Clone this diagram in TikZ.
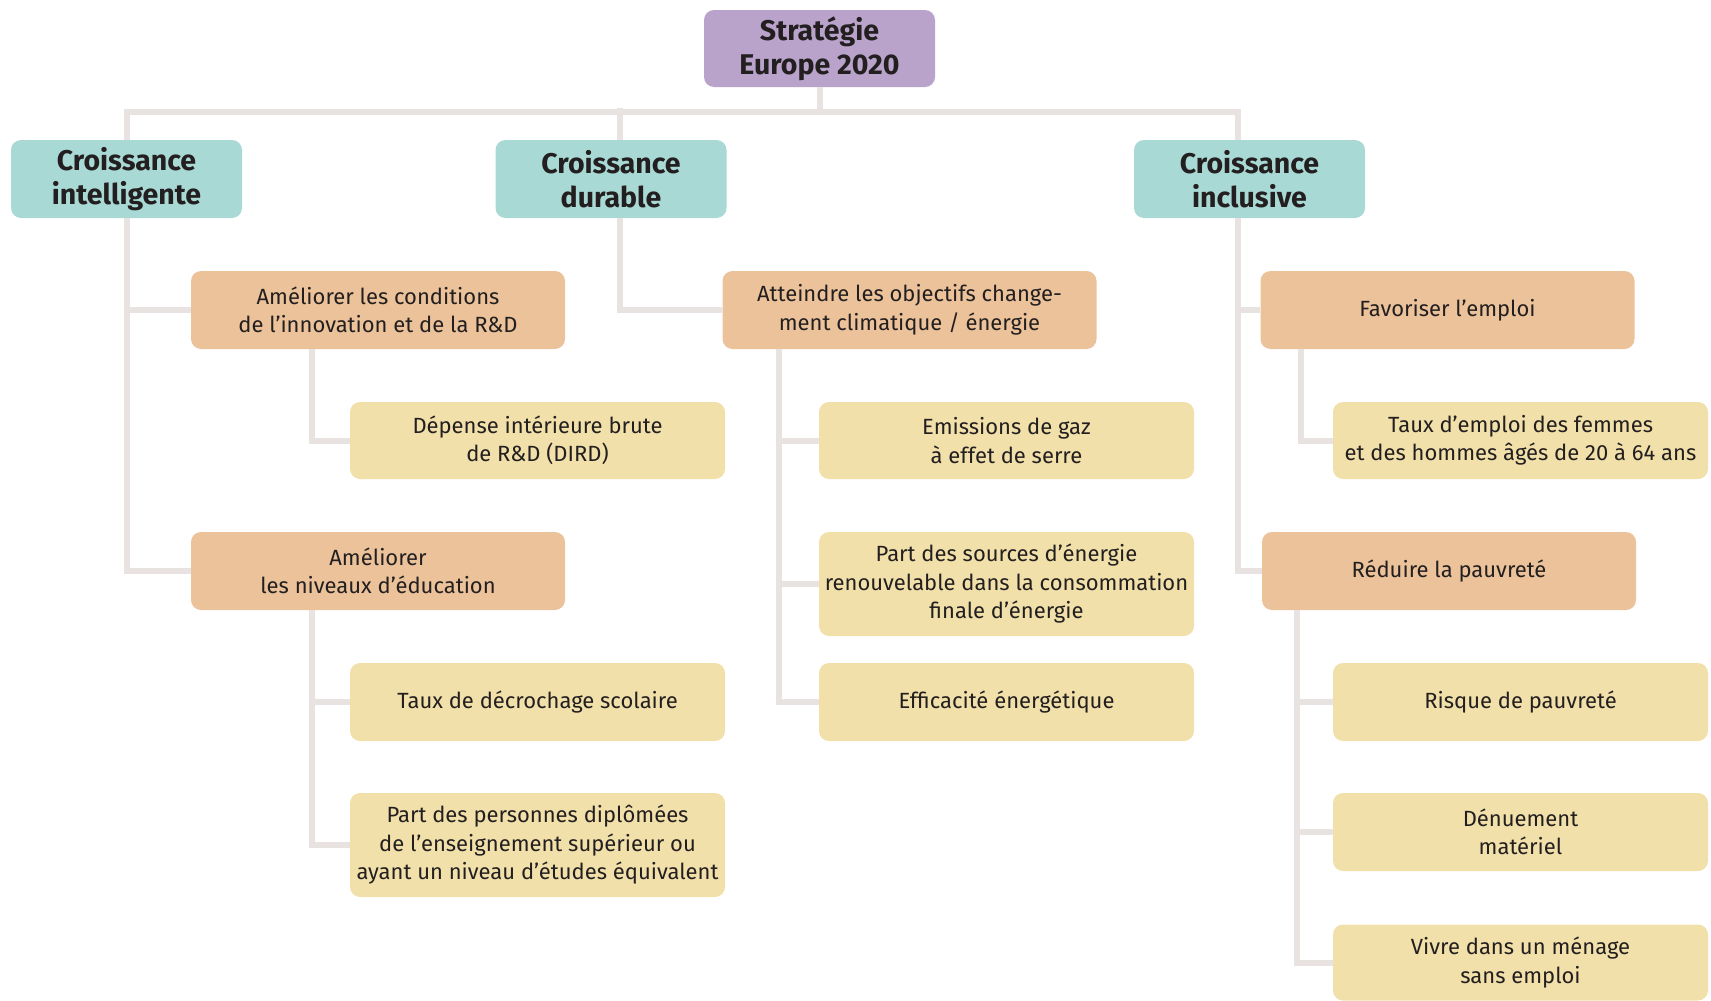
\documentclass[tikz,border=0pt]{standalone}
\usepackage{fontspec}
\setmainfont{Fira Sans}
\usetikzlibrary{positioning}

\definecolor{stratcol}{HTML}{B9A3CB}
\definecolor{axecol}{HTML}{A9D9D4}
\definecolor{goalcol}{HTML}{EBC299}
\definecolor{indiccol}{HTML}{F1E0A9}
\definecolor{linkcol}{HTML}{E8E2E0}
\definecolor{txtcol}{HTML}{231F20}

\tikzset{
  base/.style={rounded corners=10pt, align=center, text=txtcol, inner sep=2pt},
  strat/.style={base, fill=stratcol, minimum width=231pt, minimum height=77pt,
    font=\bfseries\fontsize{28.5}{34}\selectfont},
  axe/.style={base, fill=axecol, minimum width=231pt, minimum height=78pt,
    font=\bfseries\fontsize{28.5}{34}\selectfont},
  goal/.style={base, fill=goalcol, minimum width=374pt, minimum height=78pt,
    font=\fontsize{22}{28.5}\selectfont},
  indic/.style={base, fill=indiccol, minimum width=375pt, minimum height=#1,
    font=\fontsize{22}{28.5}\selectfont},
  indic/.default=78pt,
  link/.style={draw=linkcol, line width=6pt, line join=miter}
}

\begin{document}
\begin{tikzpicture}[x=1pt,y=-1pt]
  \useasboundingbox (0,0) rectangle (1711,1001);

  % top and the three axes
  \node[strat] (top) at (819.5,48.5) {Stratégie\\Europe 2020};
  \node[axe] (ci) at (126.5,179) {Croissance\\intelligente};
  \node[axe] (cd) at (611,179) {Croissance\\durable};
  \node[axe] (cx) at (1249.5,179) {Croissance\\inclusive};

  % objectives
  \node[goal] (a1) at (378,310) {Améliorer les conditions\\de l'innovation et de la R\&D};
  \node[goal] (a2) at (378,571) {Améliorer\\les niveaux d'éducation};
  \node[goal] (d1) at (909.5,310) {Atteindre les objectifs change-\\ment climatique / énergie};
  \node[goal] (i1) at (1447.5,310) {Favoriser l'emploi};
  \node[goal] (i2) at (1449,571) {Réduire la pauvreté};

  % indicators
  \node[indic=77pt] (dird) at (537.5,440.5) {Dépense intérieure brute\\de R\&D (DIRD)};
  \node[indic] (decro) at (537.5,702) {Taux de décrochage scolaire};
  \node[indic=104pt] (diplo) at (537.5,845) {Part des personnes diplômées\\de l'enseignement supérieur ou\\ayant un niveau d'études équivalent};
  \node[indic=77pt] (emis) at (1006.5,440.5) {Emissions de gaz\\à effet de serre};
  \node[indic=104pt] (sources) at (1006.5,584) {Part des sources d'énergie\\renouvelable dans la consommation\\finale d'énergie};
  \node[indic] (effic) at (1006.5,702) {Efficacité énergétique};
  \node[indic=77pt] (taux) at (1520.5,440.5) {Taux d'emploi des femmes\\et des hommes âgés de 20 à 64 ans};
  \node[indic] (risque) at (1520.5,702) {Risque de pauvreté};
  \node[indic] (denue) at (1520.5,832) {Dénuement\\matériel};
  \node[indic=76pt] (vivre) at (1520.5,962.5) {Vivre dans un ménage\\sans emploi};

  % bus under the top node
  \coordinate (bus) at (0,112);
  \draw[link] (top.south) -- (top.south |- bus);
  \draw[link] (ci.north) -- (ci.north |- bus) -- ([xshift=-12pt]cx.north |- bus) -- ([xshift=-12pt]cx.north);
  \draw[link] ([xshift=9pt]cd.north) -- ([xshift=9pt,yshift=4pt]cd.north |- bus);

  % axes to objectives
  \draw[link] (ci.south) |- (a1.west);
  \draw[link] (ci.south) |- (a2.west);
  \draw[link] ([xshift=9pt]cd.south) |- (d1.west);
  \draw[link] ([xshift=-12pt]cx.south) |- (i1.west);
  \draw[link] ([xshift=-12pt]cx.south) |- (i2.west);

  % objectives to indicators
  \draw[link] ([xshift=121pt]a1.south west) |- (dird.west);
  \draw[link] ([xshift=121pt]a2.south west) |- (decro.west);
  \draw[link] ([xshift=121pt]a2.south west) |- (diplo.west);
  \draw[link] ([xshift=57pt]d1.south west) |- (emis.west);
  \draw[link] ([xshift=57pt]d1.south west) |- (sources.west);
  \draw[link] ([xshift=57pt]d1.south west) |- (effic.west);
  \draw[link] ([xshift=41pt]i1.south west) |- (taux.west);
  \draw[link] ([xshift=35pt]i2.south west) |- (risque.west);
  \draw[link] ([xshift=35pt]i2.south west) |- (denue.west);
  \draw[link] ([xshift=35pt]i2.south west) |- (vivre.west);
\end{tikzpicture}
\end{document}
